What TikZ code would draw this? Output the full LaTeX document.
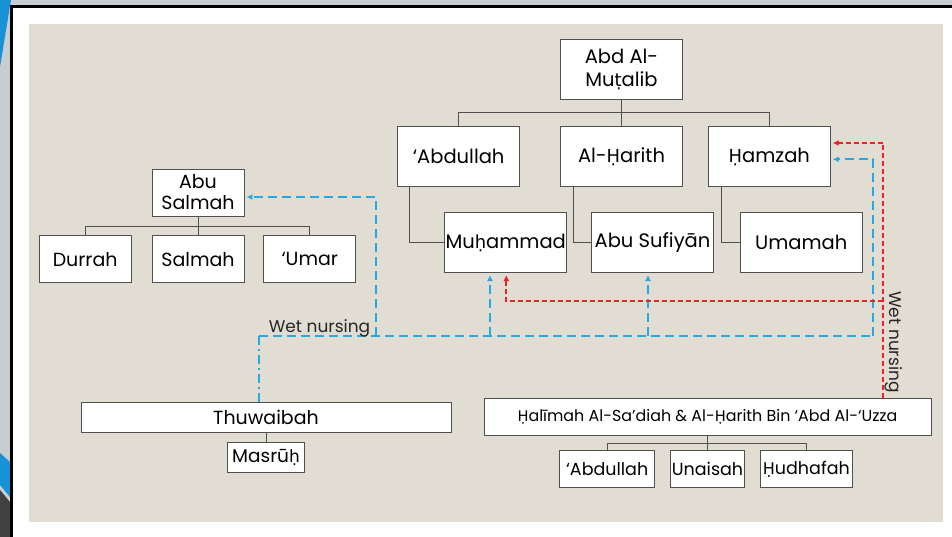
\documentclass[tikz,border=0pt]{standalone}
\usepackage{fontspec}
\setmainfont{Poppins}
\newfontfamily\dotfont{DejaVu Sans}
\usetikzlibrary{positioning,arrows.meta}

\definecolor{panel}{RGB}{226,221,210}
\definecolor{nurseblue}{RGB}{38,168,224}
\definecolor{nursered}{RGB}{232,34,40}
\definecolor{treegray}{RGB}{80,80,80}
\definecolor{slidegray}{RGB}{200,205,210}
\definecolor{slideblue}{RGB}{25,145,215}
\definecolor{slidedark}{RGB}{65,65,65}

% letters with a dot below, which Poppins lacks
\newcommand{\Hd}{{\dotfont\fontsize{0.92em}{1em}\selectfont Ḥ}}
\newcommand{\hd}{{\dotfont\fontsize{0.92em}{1em}\selectfont ḥ}}
\newcommand{\td}{{\dotfont\fontsize{0.92em}{1em}\selectfont ṭ}}

\tikzset{
  person/.style={draw=treegray, fill=white, line width=0.8pt, align=center,
    inner sep=0pt, font=\fontsize{19.5}{23}\selectfont},
  bigbox/.style={person, minimum width=122pt, minimum height=60pt},
  midbox/.style={person, minimum width=92pt, minimum height=47pt, font=\fontsize{19}{21}\selectfont},
  widebox/.style={person, minimum height=30pt, font=\fontsize{19}{21}\selectfont},
  kidbox/.style={person, minimum height=37pt, font=\fontsize{17.5}{19}\selectfont},
  tree/.style={draw=treegray, line width=0.8pt},
  nurse/.style={draw=nurseblue, line width=2.2pt, dash pattern=on 9pt off 5pt},
  milk/.style={draw=nursered, line width=2pt, dash pattern=on 5pt off 3pt},
  lbl/.style={inner sep=0pt, font=\fontsize{17}{19}\selectfont, text=black!85}
}

\begin{document}
\begin{tikzpicture}[x=1pt, y=-1pt, >={Latex[length=6pt,width=6pt]}]
 \useasboundingbox (0,0) rectangle (952,537);
 % slide frame
 \fill[slidegray] (0,0) rectangle (952,537);
 \fill[white] (12,7) rectangle (952,537);
 \fill[slideblue] (0,0) -- (11,0) -- (0,67) -- cycle;
 \fill[slideblue] (0,453) -- (10,462) -- (10,497) -- (0,485) -- cycle;
 \fill[slidedark] (0,490) -- (10,502) -- (10,537) -- (0,537) -- cycle;
 \draw[line width=3pt] (10,6.5) -- (952,6.5);
 \draw[line width=3pt] (11.5,5) -- (11.5,537);
 \fill[panel] (29,24) rectangle (943,522);

 % Abd Al-Mutalib family
 \node[bigbox] (abd) at (621.5,69) {Abd Al-\\Mu\td alib};
 \node[bigbox, below=27pt of abd] (harith) {Al-\Hd arith};
 \node[bigbox, left=40pt of harith] (abdullah) {‘Abdullah};
 \node[bigbox, right=25pt of harith] (hamzah) {\Hd amzah};
 \node[bigbox, below=25pt of abdullah, xshift=47pt] (muhammad) {Mu\hd ammad};
 \node[bigbox, right=24pt of muhammad] (sufiyan) {Abu Sufiyān};
 \node[bigbox, right=26pt of sufiyan] (umamah) {Umamah};

 % Abu Salmah family
 \node[midbox] (absalmah) at (198,192.5) {Abu\\Salmah};
 \node[midbox, below=19pt of absalmah] (salmah) {Salmah};
 \node[midbox, left=20pt of salmah] (durrah) {Durrah};
 \node[midbox, right=19pt of salmah] (umar) {‘Umar};

 % Thuwaibah
 \node[widebox, minimum width=370pt] (thuwaibah) at (266,417) {Thuwaibah};
 \node[widebox, minimum width=77pt, font=\fontsize{18.5}{20}\selectfont, below=10pt of thuwaibah] (masruh) {Masrū\hd};

 % Halimah
 \node[kidbox, minimum width=447pt, font=\fontsize{15.9}{17}\selectfont] (halimah) at (707.5,416.5) {\Hd alīmah Al-Sa’diah \& Al-\Hd arith Bin ‘Abd Al-‘Uzza};
 \node[kidbox, minimum width=74pt, below=15pt of halimah] (unaisah) {Unaisah};
 \node[kidbox, minimum width=95pt, left=15pt of unaisah] (habdullah) {‘Abdullah};
 \node[kidbox, minimum width=92pt, right=15pt of unaisah] (hudhafah) {\Hd udhafah};

 % tree lines
 \draw[tree] (abd.south) -- ++(0,13) -| (abdullah.north);
 \draw[tree] (abd.south) -- (harith.north);
 \draw[tree] (abd.south) -- ++(0,13) -| (hamzah.north);
 \draw[tree] ([xshift=12pt]abdullah.south west) |- (muhammad.west);
 \draw[tree] ([xshift=13pt]harith.south west) |- (sufiyan.west);
 \draw[tree] ([xshift=13pt]hamzah.south west) |- (umamah.west);
 \draw[tree] (absalmah.south) -- ++(0,10) -| (durrah.north);
 \draw[tree] (absalmah.south) -- (salmah.north);
 \draw[tree] (absalmah.south) -- ++(0,10) -| (umar.north);
 \draw[tree] (thuwaibah) -- (masruh);
 \draw[tree] (halimah.south) -- ++(0,8) -| (habdullah.north);
 \draw[tree] (halimah.south) -- (unaisah.north);
 \draw[tree] (halimah.south) -- ++(0,8) -| (hudhafah.north);

 % wet nursing, Thuwaibah
 \coordinate (wl) at (259,336);
 \coordinate (ws) at (376,336);
 \coordinate (wm) at (490,336);
 \coordinate (wa) at (648,336);
 \coordinate (wr) at (873,336);
 \draw[nurse, dash pattern=on 9pt off 4pt on 2pt off 4pt] ([xshift=-7pt]thuwaibah.north) -- (wl);
 \draw[nurse] (wl) -- (wr);
 \draw[nurse, ->, shorten >=2pt] (wr) |- ([yshift=-2.5pt]hamzah.east);
 \draw[nurse, ->, shorten >=2pt] (ws) |- ([yshift=-4.5pt]absalmah.east);
 \draw[nurse, ->, shorten >=2pt] (wm) -- (wm |- muhammad.south);
 \draw[nurse, ->, shorten >=2pt] (wa) -- (wa |- sufiyan.south);
 \node[lbl] (wetl) at (319.5,328) {Wet nursing};

 % wet nursing, Halimah
 \node[lbl, rotate=-90] (wetr) at (894,342) {Wet nursing};
 \coordinate (rb) at (883,398);
 \coordinate (rk) at (883,301);
 \coordinate (rt) at (883,143);
 \draw[milk] (rb) -- (rt);
 \draw[milk, ->, shorten >=2pt] (rt) -- (rt -| hamzah.east);
 \draw[milk, ->, shorten >=2pt] (rk) -| ([xshift=62pt]muhammad.south west);
\end{tikzpicture}
\end{document}
